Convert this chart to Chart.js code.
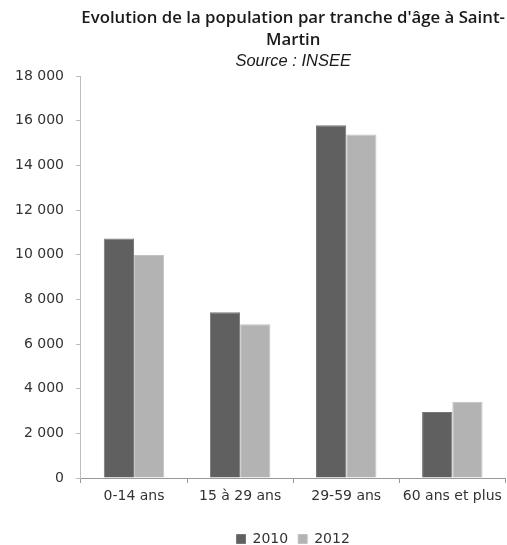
<!DOCTYPE html>
<html>
<head>
<meta charset="utf-8">
<script src="https://cdn.jsdelivr.net/npm/chart.js@4/dist/chart.umd.min.js"></script>
<style>
  html, body { margin: 0; padding: 0; background: #fff; }
  #wrap { width: 507px; height: 545px; position: relative; }
</style>
</head>
<body>
<div id="wrap"><canvas id="chart"></canvas></div>
<script>
// Population de Saint-Martin par tranche d'âge (source INSEE)
const categories = ['0-14 ans', '15 à 29 ans', '29-59 ans', '60 ans et plus'];
const seriesNames = ['2010', '2012'];
const pop2010 = [10720, 7420, 15800, 2950];
const pop2012 = [9980, 6880, 15380, 3410];
const yMax = 18000;
const yStep = 2000;

const fmt = v => String(v).replace(/\B(?=(\d{3})+(?!\d))/g, ' ');

const textColor = '#333333';
const baseFont = "'DejaVu Sans', sans-serif";

new Chart(document.getElementById('chart'), {
  type: 'bar',
  data: {
    labels: categories,
    datasets: [
      {
        label: seriesNames[0],
        data: pop2010,
        backgroundColor: '#606060',
        borderColor: '#777777',
        borderWidth: 1
      },
      {
        label: seriesNames[1],
        data: pop2012,
        backgroundColor: '#b3b3b3',
        borderColor: '#c2c2c2',
        borderWidth: 1
      }
    ]
  },
  options: {
    responsive: true,
    maintainAspectRatio: false,
    animation: false,
    devicePixelRatio: 1,
    categoryPercentage: 0.57,
    barPercentage: 1.0,
    layout: { padding: { left: 3, right: 0, top: 0, bottom: -11 } },
    plugins: {
      title: {
        display: true,
        fullSize: false,
        text: ["Evolution de la population par tranche d'âge à Saint-", 'Martin'],
        color: '#1a1a1a',
        font: { family: "'Open Sans', sans-serif", size: 16.8, weight: '600', lineHeight: '22px' },
        padding: { top: 7, bottom: 1 }
      },
      subtitle: {
        display: true,
        fullSize: false,
        text: 'Source : INSEE',
        color: '#1a1a1a',
        font: { family: "'Liberation Sans', Arial, sans-serif", size: 16.5, style: 'italic', lineHeight: '18px' },
        padding: { top: 0, bottom: 6 }
      },
      legend: {
        position: 'bottom',
        fullSize: false,
        labels: {
          color: textColor,
          font: { family: baseFont, size: 14 },
          boxWidth: 9,
          boxHeight: 9,
          padding: 10,
          useBorderRadius: false
        }
      },
      tooltip: { enabled: false }
    },
    scales: {
      x: {
        grid: {
          display: true,
          drawOnChartArea: false,
          tickLength: 5,
          color: '#9a9a9a'
        },
        border: { color: '#9a9a9a', width: 1 },
        ticks: {
          color: textColor,
          font: { family: baseFont, size: 14 },
          padding: 5,
          maxRotation: 0,
          minRotation: 0,
          autoSkip: false
        },
        afterFit: scale => { scale.height = 44; }
      },
      y: {
        min: 0,
        max: yMax,
        grid: {
          display: true,
          drawOnChartArea: false,
          tickLength: 5,
          color: '#bdbdbd'
        },
        border: { color: '#bdbdbd', width: 1 },
        ticks: {
          stepSize: yStep,
          color: textColor,
          font: { family: baseFont, size: 14 },
          padding: 12,
          callback: v => fmt(v)
        }
      }
    }
  }
});
</script>
</body>
</html>
